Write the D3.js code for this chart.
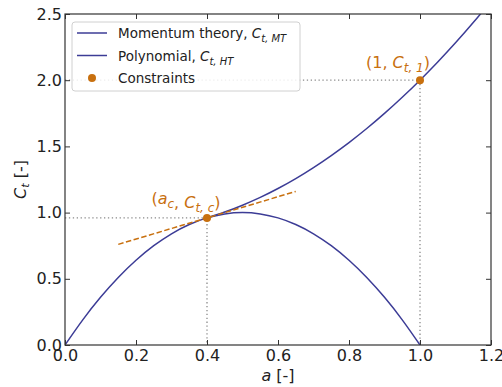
<!DOCTYPE html>
<html>
<head>
<meta charset="utf-8">
<script src="https://cdn.jsdelivr.net/npm/d3@7"></script>
<style>
  body { margin: 0; background: #fff; }
  text { font-family: "DejaVu Sans", sans-serif; }
</style>
</head>
<body>
<div id="viz"></div>
<script>
// values
var aMT = [0, 0.05, 0.1, 0.15, 0.2, 0.25, 0.3, 0.35, 0.4, 0.45, 0.5, 0.55, 0.6, 0.65, 0.7, 0.75, 0.8, 0.85, 0.9, 0.95, 1.0];
var ctMT = [0, 0.19, 0.36, 0.51, 0.64, 0.75, 0.84, 0.91, 0.96, 0.99, 1.0, 0.99, 0.96, 0.91, 0.84, 0.75, 0.64, 0.51, 0.36, 0.19, 0];
var aHT = [0.4, 0.45, 0.5, 0.55, 0.6, 0.65, 0.7, 0.75, 0.8, 0.85, 0.9, 0.95, 1.0, 1.05, 1.1, 1.15, 1.2];
var ctHT = [0.96, 1.004, 1.056, 1.115, 1.182, 1.257, 1.34, 1.431, 1.529, 1.635, 1.749, 1.871, 2.0, 2.137, 2.282, 2.435, 2.596];
var tangentA = [0.15, 0.65];
var tangentCt = [0.76, 1.16];
var constraints = [{a: 0.4, ct: 0.96}, {a: 1.0, ct: 2.0}];
var xTicks = [0, 0.2, 0.4, 0.6, 0.8, 1.0, 1.2];
var yTicks = [0, 0.5, 1.0, 1.5, 2.0, 2.5];

var blue = '#3c3c96', orange = '#c8700f';
var margin = {top: 14, right: 11, bottom: 42, left: 65},
    width = 502 - margin.left - margin.right,
    height = 387 - margin.top - margin.bottom;

var svg = d3.select('#viz').append('svg')
  .attr('width', 502).attr('height', 387);
var g = svg.append('g')
  .attr('transform', 'translate(' + margin.left + ',' + margin.top + ')');

var x = d3.scaleLinear().domain([0, 1.2]).range([0, width]);
var y = d3.scaleLinear().domain([0, 2.5]).range([height, 0]);

g.append('clipPath').attr('id', 'clip')
  .append('rect').attr('width', width).attr('height', height);

var plot = g.append('g').attr('clip-path', 'url(#clip)');

// guide lines to the constraints
constraints.forEach(function(c) {
  plot.append('path')
    .attr('d', d3.line()([[x(0), y(c.ct)], [x(c.a), y(c.ct)], [x(c.a), y(0)]]))
    .attr('fill', 'none').attr('stroke', '#8a8a8a')
    .attr('stroke-width', 1.3).attr('stroke-dasharray', '1.3,2.6');
});

var line = d3.line().curve(d3.curveNatural)
  .x(function(d) { return x(d[0]); })
  .y(function(d) { return y(d[1]); });

plot.append('path')
  .attr('d', line(d3.zip(aMT, ctMT)))
  .attr('fill', 'none').attr('stroke', blue).attr('stroke-width', 1.5);
plot.append('path')
  .attr('d', line(d3.zip(aHT, ctHT)))
  .attr('fill', 'none').attr('stroke', blue).attr('stroke-width', 1.5);

plot.append('path')
  .attr('d', d3.line()(d3.zip(tangentA.map(x), tangentCt.map(y))))
  .attr('fill', 'none').attr('stroke', orange)
  .attr('stroke-width', 1.5).attr('stroke-dasharray', '5.5,2.5');

g.selectAll('circle.c').data(constraints).enter().append('circle')
  .attr('cx', function(d) { return x(d.a); })
  .attr('cy', function(d) { return y(d.ct); })
  .attr('r', 4).attr('fill', orange);

// annotations
function label(px, py, first, sub) {
  var t = g.append('text').attr('x', px).attr('y', py)
    .attr('fill', orange).style('font-size', '16px').attr('text-anchor', 'middle');
  t.append('tspan').text('(');
  first(t);
  t.append('tspan').text(', ');
  t.append('tspan').style('font-style', 'italic').text('C');
  t.append('tspan').attr('dy', 4).style('font-size', '12px').style('font-style', 'italic').text(sub);
  t.append('tspan').attr('dy', -4).text(')');
}
label(x(0.4) - 21, y(0.96) - 14, function(t) {
  t.append('tspan').style('font-style', 'italic').text('a');
  t.append('tspan').attr('dy', 4).style('font-size', '12px').style('font-style', 'italic').text('c');
  t.append('tspan').attr('dy', -4).text('');
}, 't, c');
label(x(1.0) - 22, y(2.0) - 12, function(t) {
  t.append('tspan').text('1');
}, 't, 1');

// axes with inward ticks
var fmt = d3.format('.1f');
g.append('g').attr('transform', 'translate(0,' + height + ')')
  .call(d3.axisBottom(x).tickValues(xTicks).tickFormat(fmt).tickSizeInner(-5).tickSizeOuter(0).tickPadding(5));
g.append('g').call(d3.axisTop(x).tickValues(xTicks).tickFormat('').tickSizeInner(-5).tickSizeOuter(0));
g.append('g')
  .call(d3.axisLeft(y).tickValues(yTicks).tickFormat(fmt).tickSizeInner(-5).tickSizeOuter(0).tickPadding(3));
g.append('g').attr('transform', 'translate(' + width + ',0)')
  .call(d3.axisRight(y).tickValues(yTicks).tickFormat('').tickSizeInner(-5).tickSizeOuter(0));
g.selectAll('.domain').remove();
g.selectAll('.tick line').attr('stroke', '#333');
g.selectAll('.tick text').style('font-size', '16px').attr('fill', '#222')
  .style('font-family', '"DejaVu Sans", sans-serif');
g.append('rect').attr('width', width).attr('height', height)
  .attr('fill', 'none').attr('stroke', '#333').attr('stroke-width', 1.2);

// axis labels
var xl = svg.append('text').attr('x', margin.left + width / 2).attr('y', 381)
  .attr('text-anchor', 'middle').style('font-size', '16px').attr('fill', '#222');
xl.append('tspan').style('font-style', 'italic').text('a');
xl.append('tspan').text(' [-]');

var yl = svg.append('text')
  .attr('transform', 'translate(26,' + (margin.top + height / 2) + ') rotate(-90)')
  .attr('text-anchor', 'middle').style('font-size', '16px').attr('fill', '#222');
yl.append('tspan').style('font-style', 'italic').text('C');
yl.append('tspan').attr('dy', 3).style('font-size', '11px').style('font-style', 'italic').text('t');
yl.append('tspan').attr('dy', -3).text(' [-]');

// legend
var legend = g.append('g').attr('transform', 'translate(7,8)');
legend.append('rect').attr('width', 228).attr('height', 69).attr('rx', 3)
  .attr('fill', 'white').attr('fill-opacity', 0.85).attr('stroke', '#d0d0d0');
var items = [
  {type: 'line', name: 'Momentum theory, ', sub: 't, MT'},
  {type: 'line', name: 'Polynomial, ', sub: 't, HT'},
  {type: 'dot', name: 'Constraints', sub: null}
];
items.forEach(function(it, i) {
  var yy = 11 + i * 22.5;
  if (it.type === 'line') {
    legend.append('line').attr('x1', 5).attr('x2', 35).attr('y1', yy).attr('y2', yy)
      .attr('stroke', blue).attr('stroke-width', 1.5);
  } else {
    legend.append('circle').attr('cx', 20).attr('cy', yy).attr('r', 4).attr('fill', orange);
  }
  var t = legend.append('text').attr('x', 46).attr('y', yy + 5)
    .style('font-size', '13.5px').attr('fill', '#222');
  t.append('tspan').text(it.name);
  if (it.sub) {
    t.append('tspan').style('font-style', 'italic').text('C');
    t.append('tspan').attr('dy', 4).style('font-size', '10px').style('font-style', 'italic').text(it.sub);
  }
});
</script>
</body>
</html>
